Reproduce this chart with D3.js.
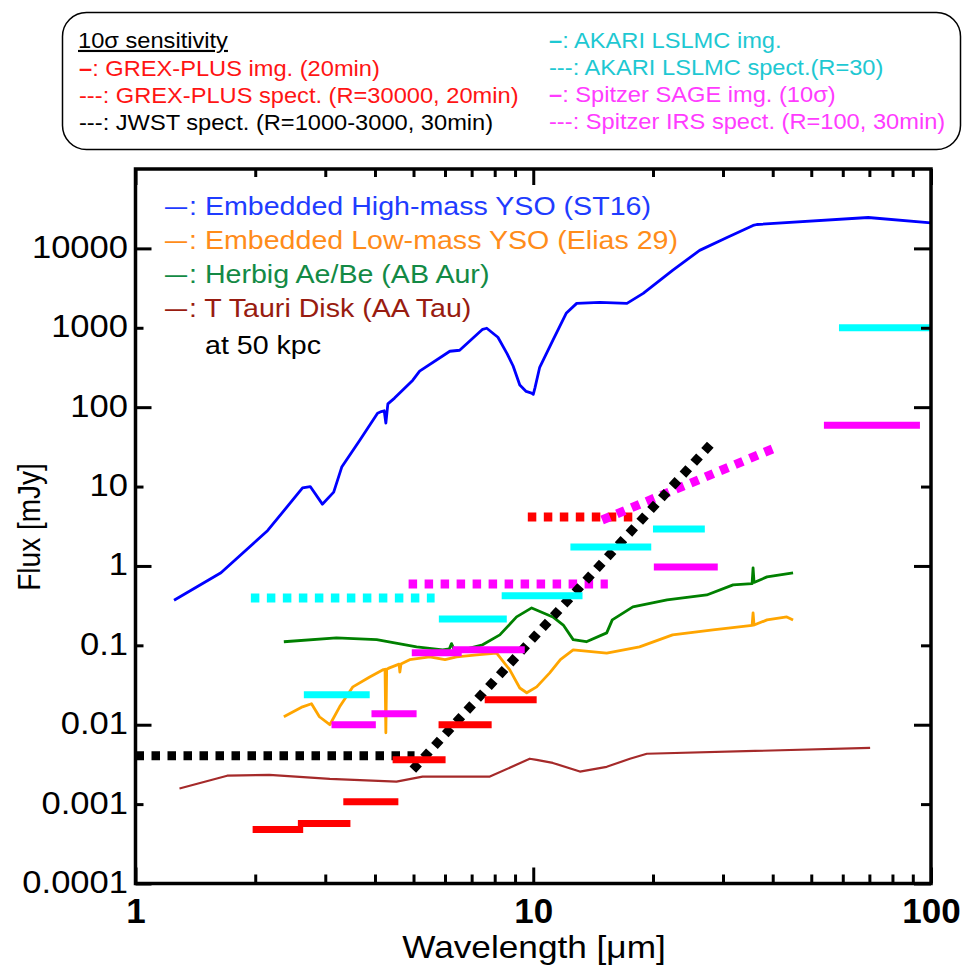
<!DOCTYPE html>
<html>
<head>
<meta charset="utf-8">
<script src="https://cdn.jsdelivr.net/npm/d3@7"></script>
<style>
  body { margin: 0; background: #fff; }
  svg { display: block; }
</style>
</head>
<body>
<svg id="chart" width="964" height="969"></svg>
<script>
// ---- Spectral energy distributions at 50 kpc: [wavelength (µm), flux (mJy)] ----
const sedHighMassYSO = [
  [1.25,0.37],[1.64,0.82],[2.15,2.8],[2.63,9.6],[2.75,10],[2.95,6.0],[3.15,8.5],[3.30,17.6],
  [3.66,38],[4.06,84],[4.15,88],[4.22,90],[4.26,63],[4.31,110],[4.48,130],[4.98,219],[5.18,284],
  [6.17,506],[6.53,521],[7.46,957],[7.64,986],[8.15,760],[8.6,470],[8.9,330],[9.25,190],
  [9.6,158],[9.9,150],[10.0,145],[10.1,175],[10.38,318],[11.2,696],[12.1,1520],[12.86,2030],
  [14.7,2090],[17.2,2030],[18.9,2716],[22.4,5290],[26.2,9440],[30.7,13700],[35.7,19450],
  [36.5,20000],[69.5,24500],[100,21000]
];
const sedLowMassYSO = [
  [2.36,0.0126],[2.63,0.0168],[2.77,0.0184],[2.90,0.0126],[3.08,0.0100],[3.26,0.0168],
  [3.52,0.030],[3.88,0.040],[4.18,0.049],[4.24,0.050],[4.26,0.0079],[4.28,0.050],[4.35,0.052],
  [4.6,0.058],[4.62,0.046],[4.65,0.058],[4.89,0.066],[5.49,0.0716],[6.0,0.066],[6.42,0.0716],
  [7.21,0.076],[8.09,0.080],[8.73,0.049],[9.25,0.029],[9.63,0.0253],[10.2,0.030],[11.0,0.045],
  [11.7,0.066],[12.6,0.0877],[15.3,0.080],[18.5,0.0957],[22.4,0.1355],[28.3,0.157],
  [35.5,0.178],[35.7,0.256],[35.9,0.18],[38.7,0.209],[43.4,0.228],[45.0,0.209]
];
const sedHerbigAeBe = [
  [2.36,0.111],[3.20,0.124],[4.04,0.118],[5.09,0.0957],[5.92,0.0877],[6.15,0.09],[6.23,0.105],
  [6.35,0.085],[6.42,0.084],[7.46,0.1015],[8.24,0.1355],[9.08,0.228],[9.91,0.296],[11.2,0.228],
  [11.9,0.18],[12.6,0.118],[13.6,0.111],[15.3,0.1435],[15.8,0.209],[17.8,0.305],[21.7,0.373],
  [27.3,0.431],[31.8,0.577],[35.5,0.6],[35.7,0.944],[35.9,0.62],[38.7,0.728],[45.0,0.816]
];
const sedTTauriDisk = [
  [1.29,0.00157],[1.70,0.00228],[2.17,0.00234],[3.08,0.00208],[4.53,0.00192],[5.27,0.00222],
  [7.78,0.00222],[9.80,0.00373],[10.2,0.0036],[11.2,0.0033],[13.1,0.00257],[15.3,0.00295],
  [17.5,0.00373],[19.3,0.00431],[70.3,0.0051]
];

// ---- Imaging sensitivities (10σ): [λ min, λ max, flux] ----
const grexImaging  = [[1.97,2.64,0.00048],[2.56,3.47,0.00057],[3.33,4.58,0.00107],
                      [4.43,6.02,0.00363],[5.78,7.86,0.0100],[7.55,10.2,0.0206]];
const akariImaging = [[2.65,3.88,0.0238],[5.79,8.58,0.215],[8.33,13.3,0.42],
                      [12.4,19.8,1.73],[20.0,27.0,2.92],[58.7,100,1000]];
const sageImaging  = [[3.11,4.02,0.0100],[3.92,5.09,0.0137],[4.95,6.61,0.0806],
                      [6.27,9.52,0.0877],[20.1,29.1,0.97],[53.8,93.8,59.4]];

// ---- Spectroscopic sensitivities: polyline segments of [λ, flux] ----
const grexSpectro  = [[[9.69,4.13],[17.8,4.13]]];
const akariSpectro = [[[1.95,0.395],[5.65,0.395]]];
const irsSpectro   = [[[4.86,0.594],[15.4,0.594]], [[14.9,3.79],[41.0,31.4]]];
const jwstSpectro  = [[[1.0,0.00407],[5.03,0.00407]], [[4.98,0.00272],[28.1,35.2]]];

// ---- Axis ticks ----
const xMajorTicks = [1, 10, 100];
const xMajorLabels = ["1", "10", "100"];
const xMinorTicks = [2,3,4,5,6,7,8,9,20,30,40,50,60,70,80,90];
const yLongTicks = [1e-4, 1e-2, 1, 100, 1e4];
const yLongLabels = ["0.0001", "0.01", "1", "100", "10000"];
const yShortTicks = [1e-3, 0.1, 10, 1000];
const yShortLabels = ["0.001", "0.1", "10", "1000"];

// ---- Legend texts ----
const sensitivityTitle = "10\u03c3 sensitivity";
const boxLegendLeft = [
  { mark: "\u2013", text: ": GREX-PLUS img. (20min)", color: "#ff1414", bold: true },
  { mark: "---", text: ": GREX-PLUS spect. (R=30000, 20min)", color: "#ff1414" },
  { mark: "---", text: ": JWST spect. (R=1000-3000, 30min)", color: "#000000" }
];
const boxLegendRight = [
  { mark: "\u2013", text: ": AKARI LSLMC img.", color: "#1ec8d2", bold: true },
  { mark: "---", text: ": AKARI LSLMC spect.(R=30)", color: "#1ec8d2" },
  { mark: "\u2013", text: ": Spitzer SAGE img. (10\u03c3)", color: "#ff3cff", bold: true },
  { mark: "---", text: ": Spitzer IRS spect. (R=100, 30min)", color: "#ff3cff" }
];
const sedLegend = [
  { text: ": Embedded High-mass YSO (ST16)", color: "#1f3cff" },
  { text: ": Embedded Low-mass YSO (Elias 29)", color: "#ff8c1a" },
  { text: ": Herbig Ae/Be (AB Aur)", color: "#138a45" },
  { text: ": T Tauri Disk (AA Tau)", color: "#981c10" }
];
const distanceNote = "at 50 kpc";

// ---- Drawing ----
const FONT = "'Liberation Sans', Arial, Helvetica, sans-serif";
const svg = d3.select("#chart");

const plot = { left: 135.5, right: 931, top: 169, bottom: 883.5 };
const x = d3.scaleLog().domain([1, 100]).range([plot.left, plot.right]);
const y = d3.scaleLog().domain([1e-4, 1e5]).range([plot.bottom, plot.top]);

// text helper: glyphs are drawn slightly widened horizontally
function addText(parent, px, py, opts) {
  const t = parent.append("text")
    .attr("transform", `translate(${px},${py}) scale(${opts.sx || 1.1},1)`)
    .attr("font-family", FONT)
    .attr("font-size", opts.size)
    .attr("text-anchor", opts.anchor || "start")
    .attr("fill", opts.fill || "#000");
  if (opts.weight) t.attr("font-weight", opts.weight);
  return t;
}

// Legend box at the top
const box = svg.append("g");
box.append("rect")
  .attr("x", 62.5).attr("y", 12.5).attr("width", 898).attr("height", 137)
  .attr("rx", 24).attr("ry", 24)
  .attr("fill", "#fff").attr("stroke", "#000").attr("stroke-width", 1.5);

addText(box, 78, 48, { size: 21.5 })
  .attr("text-decoration", "underline")
  .text(sensitivityTitle);

function boxRow(px, py, item) {
  const t = addText(box, px, py, { size: 21.5, fill: item.color });
  t.append("tspan").attr("font-weight", item.bold ? "bold" : null).text(item.mark);
  t.append("tspan").text(item.text);
}
boxLegendLeft.forEach((d, i) => boxRow(79, 76 + i * 27, d));
boxLegendRight.forEach((d, i) => boxRow(549, 48 + i * 27, d));

// Plot area clip
svg.append("defs").append("clipPath").attr("id", "plot-clip")
  .append("rect")
  .attr("x", plot.left).attr("y", plot.top)
  .attr("width", plot.right - plot.left).attr("height", plot.bottom - plot.top);

const g = svg.append("g").attr("clip-path", "url(#plot-clip)");

const line = d3.line().x(d => x(d[0])).y(d => y(d[1]));

// SED curves
const curves = [
  { data: sedHighMassYSO, color: "#0000ff", width: 2.8 },
  { data: sedLowMassYSO,  color: "#ffa500", width: 2.8 },
  { data: sedHerbigAeBe,  color: "#008000", width: 2.8 },
  { data: sedTTauriDisk,  color: "#a52a2a", width: 2.2 }
];
curves.forEach(c => {
  g.append("path").datum(c.data)
    .attr("d", line)
    .attr("fill", "none")
    .attr("stroke", c.color)
    .attr("stroke-width", c.width)
    .attr("stroke-linejoin", "round");
});

// Spectroscopic sensitivities: thick dotted lines
function dotted(segments, color) {
  g.selectAll(null).data(segments).enter().append("path")
    .attr("d", line)
    .attr("fill", "none")
    .attr("stroke", color)
    .attr("stroke-width", 9)
    .attr("stroke-dasharray", "8.5,7.5");
}
dotted(akariSpectro, "#00ffff");
dotted(grexSpectro, "#ff0000");
dotted(irsSpectro, "#ff00ff");
dotted(jwstSpectro, "#000000");

// Imaging sensitivities: short horizontal bars
function bars(data, color) {
  g.selectAll(null).data(data).enter().append("line")
    .attr("x1", d => x(d[0])).attr("x2", d => x(d[1]))
    .attr("y1", d => y(d[2])).attr("y2", d => y(d[2]))
    .attr("stroke", color)
    .attr("stroke-width", 7);
}
bars(akariImaging, "#00ffff");
bars(sageImaging, "#ff00ff");
bars(grexImaging, "#ff0000");

// Axes (ticks point inwards on all four sides)
function styleAxis(sel) {
  sel.select(".domain").remove();
  sel.selectAll(".tick line").attr("stroke", "#000").attr("stroke-width", 3);
}
function stretchLabels(sel, sx) {
  sel.selectAll(".tick text").each(function () {
    const t = d3.select(this);
    const tx = +t.attr("x") || 0;
    t.attr("x", tx / sx).attr("transform", `scale(${sx},1)`);
  });
}

const axes = svg.append("g");

// bottom
const xb1 = axes.append("g").attr("transform", `translate(0,${plot.bottom})`)
  .call(d3.axisBottom(x).tickValues(xMinorTicks).tickSize(-9).tickFormat(""));
styleAxis(xb1);
const xb2 = axes.append("g").attr("transform", `translate(0,${plot.bottom})`)
  .call(d3.axisBottom(x).tickValues(xMajorTicks).tickSize(-16).tickPadding(14.5)
    .tickFormat((d, i) => xMajorLabels[i]));
styleAxis(xb2);
xb2.selectAll(".tick text")
  .attr("font-family", FONT).attr("font-size", 35).attr("font-weight", "bold").attr("fill", "#000");

// top
const xt1 = axes.append("g").attr("transform", `translate(0,${plot.top})`)
  .call(d3.axisTop(x).tickValues(xMinorTicks).tickSize(-8).tickFormat(""));
styleAxis(xt1);
const xt2 = axes.append("g").attr("transform", `translate(0,${plot.top})`)
  .call(d3.axisTop(x).tickValues(xMajorTicks).tickSize(-16).tickFormat(""));
styleAxis(xt2);

// left
function leftAxis(ticks, labels, len) {
  const a = axes.append("g").attr("transform", `translate(${plot.left},0)`)
    .call(d3.axisLeft(y).tickValues(ticks).tickSize(-len).tickPadding(7.5)
      .tickFormat((d, i) => labels[i]));
  styleAxis(a);
  a.selectAll(".tick text")
    .attr("font-family", FONT).attr("font-size", 32).attr("fill", "#000").attr("dy", "0.28em");
  stretchLabels(a, 1.08);
}
leftAxis(yLongTicks, yLongLabels, 16);
leftAxis(yShortTicks, yShortLabels, 8);

// right
const yr1 = axes.append("g").attr("transform", `translate(${plot.right},0)`)
  .call(d3.axisRight(y).tickValues(yLongTicks).tickSize(-17).tickFormat(""));
styleAxis(yr1);
const yr2 = axes.append("g").attr("transform", `translate(${plot.right},0)`)
  .call(d3.axisRight(y).tickValues(yShortTicks).tickSize(-10).tickFormat(""));
styleAxis(yr2);

// frame
axes.append("rect")
  .attr("x", plot.left).attr("y", plot.top)
  .attr("width", plot.right - plot.left).attr("height", plot.bottom - plot.top)
  .attr("fill", "none").attr("stroke", "#000").attr("stroke-width", 3.5);

// Axis titles
addText(svg, 534, 958, { size: 32, anchor: "middle" }).text("Wavelength [\u03bcm]");
svg.append("text")
  .attr("transform", "translate(40,527) rotate(-90) scale(1,1.1)")
  .attr("font-family", FONT).attr("font-size", 28).attr("text-anchor", "middle")
  .attr("fill", "#000")
  .text("Flux [mJy]");

// SED legend inside the plot
const leg = svg.append("g");
sedLegend.forEach((d, i) => {
  const by = 215 + i * 34;
  addText(leg, 165, by, { size: 26, fill: d.color, sx: 0.85 }).text("\u2014");
  addText(leg, 189, by, { size: 26, fill: d.color }).text(d.text);
});
addText(leg, 205, 354, { size: 26 }).text(distanceNote);
</script>
</body>
</html>
